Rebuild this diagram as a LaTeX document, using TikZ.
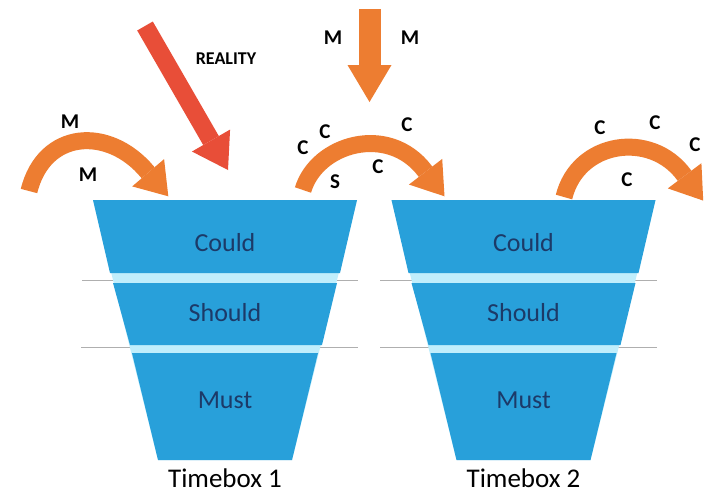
\documentclass[tikz,border=0pt]{standalone}
\usepackage{fontspec}
\setmainfont{Carlito}
\usetikzlibrary{arrows.meta}
\definecolor{funnelblue}{RGB}{40,160,218}
\definecolor{gapcyan}{RGB}{192,238,252}
\definecolor{textnavy}{RGB}{28,58,104}
\definecolor{linegray}{RGB}{175,175,175}
\definecolor{arroworange}{RGB}{237,125,49}
\definecolor{realityred}{RGB}{232,78,56}
\tikzset{
  section/.style={fill=funnelblue},
  sepline/.style={draw=linegray, line width=1pt},
  lvl/.style={text=textnavy, font=\fontsize{26}{30}\selectfont},
  boxname/.style={font=\fontsize{27}{30}\selectfont},
  letter/.style={font=\bfseries\fontsize{21}{24}\selectfont},
  flowarrow/.style={draw=arroworange, line width=17pt, -{Triangle[length=31pt,width=42pt,line width=0pt]}}
}
\begin{document}
\begin{tikzpicture}[x=1pt, y=-1pt]
    \useasboundingbox[fill=white] (0,0) rectangle (706,493);
    % separator lines sit behind the funnels
    \draw[sepline] (82,280) -- (358,280);
    \draw[sepline] (81,347) -- (358,347);
    \draw[sepline] (380,280) -- (657,280);
    \draw[sepline] (380,347) -- (657,347);
    % timebox 1
    \fill[gapcyan] (93,200) -- (357,200) -- (292,460) -- (158,460) -- cycle;
    \fill[section] (93,200) -- (357,200) -- (340,273) -- (110,273) -- cycle;
    \fill[section] (113,283) -- (337,283) -- (322,345) -- (130,345) -- cycle;
    \fill[section] (132,353) -- (318,353) -- (292,460) -- (158,460) -- cycle;
    \node[lvl] (could1) at (225,243) {Could};
    \node[lvl] (should1) at (225,313) {Should};
    \node[lvl] (must1) at (225,400) {Must};
    \node[boxname] (tb1) at (225,478) {Timebox 1};
    % timebox 2
    \begin{scope}[xshift=298.5pt]
    \fill[gapcyan] (93,200) -- (357,200) -- (292,460) -- (158,460) -- cycle;
    \fill[section] (93,200) -- (357,200) -- (340,273) -- (110,273) -- cycle;
    \fill[section] (113,283) -- (337,283) -- (322,345) -- (130,345) -- cycle;
    \fill[section] (132,353) -- (318,353) -- (292,460) -- (158,460) -- cycle;
    \node[lvl] (could2) at (225,243) {Could};
    \node[lvl] (should2) at (225,313) {Should};
    \node[lvl] (must2) at (225,400) {Must};
    \node[boxname] (tb2) at (225,478) {Timebox 2};
    \end{scope}
    % arrows
    \draw[draw=realityred, line width=18pt, -{Triangle[length=34pt,width=44pt,line width=0pt]}] (145,26) -- (228,170);
    \draw[draw=arroworange, line width=22pt, -{Triangle[length=37pt,width=44pt,line width=0pt]}] (369.5,9) -- (369.5,102);
    \draw[flowarrow] (29,191) .. controls (44,130) and (108.5,125.4) .. (147.5,172) -- (168.3,196.3);
    \draw[flowarrow] (303,190) .. controls (316.5,144) and (388.4,122.6) .. (425,171) -- (444.5,196.3);
    \draw[flowarrow] (564,197) .. controls (577.75,141) and (651,130) .. (684,175) -- (703.2,200.6);
    % letters
    \node[font=\bfseries\fontsize{18}{20}\selectfont] (reality) at (226,59) {REALITY};
    \node[letter] (m1) at (70,122) {M};
    \node[letter] (m2) at (88,175) {M};
    \node[letter] (m3) at (333,38) {M};
    \node[letter] (m4) at (410,38) {M};
    \node[letter] (c1) at (303,148) {C};
    \node[letter] (c2) at (325,132) {C};
    \node[letter] (c3) at (407,125) {C};
    \node[letter] (s1) at (335,182) {S};
    \node[letter] (c4) at (378,167) {C};
    \node[letter] (c5) at (600,128) {C};
    \node[letter] (c6) at (655,123) {C};
    \node[letter] (c7) at (695,145) {C};
    \node[letter] (c8) at (627,180) {C};
\end{tikzpicture}
\end{document}
